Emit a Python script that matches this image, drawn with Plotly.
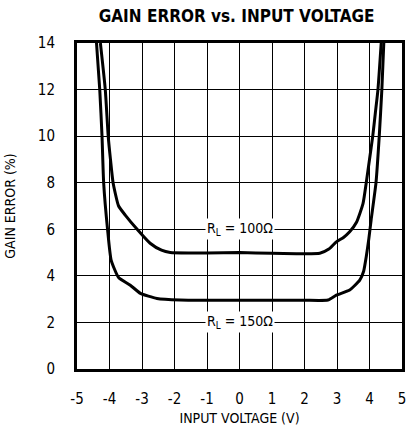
import plotly.graph_objects as go

# R_L = 100 ohm curve
x_100 = [-4.28, -4.13, -4.04, -3.97, -3.89, -3.72, -3.51, -3.15, -2.75, -2.4, -2.13, -1.5, -1.0, 0.0, 1.0, 2.0, 2.47, 2.75, 2.98, 3.2, 3.39, 3.6, 3.8, 3.9, 4.0, 4.1, 4.18, 4.26, 4.36]
y_100 = [14.0, 12.0, 10.0, 9.0, 8.0, 7.0, 6.6, 6.0, 5.4, 5.1, 5.0, 4.98, 4.98, 5.0, 4.97, 4.95, 4.97, 5.15, 5.46, 5.65, 5.89, 6.3, 7.1, 8.0, 9.0, 10.0, 11.0, 12.0, 14.0]

# R_L = 150 ohm curve
x_150 = [-4.40, -4.30, -4.23, -4.18, -4.06, -3.95, -3.72, -3.36, -3.05, -2.54, -1.83, -1.0, 0.0, 1.0, 2.0, 2.72, 2.98, 3.39, 3.70, 3.82, 3.9, 3.98, 4.05, 4.2, 4.3, 4.38, 4.44]
y_150 = [14.0, 12.0, 10.0, 8.0, 6.0, 4.68, 3.93, 3.6, 3.25, 3.03, 2.96, 2.95, 2.95, 2.95, 2.95, 2.96, 3.17, 3.39, 3.82, 4.2, 4.82, 5.6, 6.4, 8.0, 10.0, 12.0, 14.0]

x_ticks = [-5, -4, -3, -2, -1, 0, 1, 2, 3, 4, 5]
y_ticks = [0, 2, 4, 6, 8, 10, 12, 14]

labels = ["R<sub>L</sub> = 100Ω", "R<sub>L</sub> = 150Ω"]
label_x = [0, 0]
label_y = [6, 2]

FONT = "DejaVu Sans Condensed, Liberation Sans Narrow, sans-serif"

fig = go.Figure()
fig.add_trace(go.Scatter(x=x_100, y=y_100, mode="lines",
                         line=dict(color="black", width=3, shape="spline", smoothing=0.5),
                         showlegend=False, hoverinfo="skip"))
fig.add_trace(go.Scatter(x=x_150, y=y_150, mode="lines",
                         line=dict(color="black", width=3, shape="spline", smoothing=0.5),
                         showlegend=False, hoverinfo="skip"))

for t, lx, ly in zip(labels, label_x, label_y):
    fig.add_annotation(x=lx, y=ly, text=t, showarrow=False, bgcolor="white",
                       font=dict(family=FONT, size=14, color="black"), borderpad=1)

fig.update_layout(
    width=408, height=429,
    margin=dict(l=77, r=6, t=43, b=60),
    paper_bgcolor="white", plot_bgcolor="white",
    title=dict(text="<b>GAIN ERROR vs. INPUT VOLTAGE</b>", x=0.58, xanchor="center",
               y=0.962, yanchor="middle",
               font=dict(family=FONT, size=17, color="black")),
    font=dict(family=FONT, color="black"),
)
fig.update_xaxes(range=[-5, 5], tickvals=x_ticks, ticktext=[str(v) for v in x_ticks],
                 showgrid=True, gridcolor="black", gridwidth=1, zeroline=False,
                 showline=True, linecolor="black", linewidth=3, mirror=True,
                 ticks="", ticklabelstandoff=14, automargin=False,
                 tickfont=dict(family=FONT, size=15, color="black"),
                 title=dict(text="INPUT VOLTAGE (V)", standoff=7,
                            font=dict(family=FONT, size=14, color="black")))
fig.update_yaxes(range=[0, 14], tickvals=y_ticks, ticktext=[str(v) for v in y_ticks],
                 showgrid=True, gridcolor="black", gridwidth=1, zeroline=False,
                 showline=True, linecolor="black", linewidth=3, mirror=True,
                 ticks="", ticklabelstandoff=16, automargin=False,
                 tickfont=dict(family=FONT, size=15, color="black"),
                 title=dict(text="GAIN ERROR (%)", standoff=19,
                            font=dict(family=FONT, size=14, color="black")))

fig.write_html("out.html", config={"displayModeBar": False, "staticPlot": True},
               post_script="document.body.style.margin='0';document.body.style.overflow='hidden';")
